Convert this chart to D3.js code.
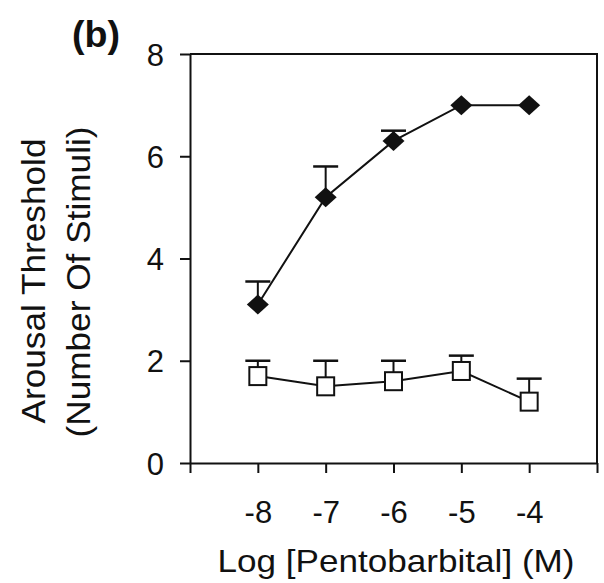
<!DOCTYPE html>
<html><head><meta charset="utf-8">
<script src="https://cdn.jsdelivr.net/npm/d3@7"></script>
<style>html,body{margin:0;padding:0;background:#fff;}text{font-family:"Liberation Sans",Arial,sans-serif;fill:#111;}</style>
</head><body>
<svg id="c" width="604" height="583"></svg>
<script>
const logConc = [-8, -7, -6, -5, -4];
const filledMean = [3.1, 5.2, 6.3, 7.0, 7.0];
const filledErr = [0.45, 0.6, 0.2, 0.0, 0.0];
const openMean = [1.7, 1.5, 1.6, 1.8, 1.2];
const openErr = [0.3, 0.5, 0.4, 0.3, 0.45];
const yTicks = [0, 2, 4, 6, 8];
const xTicks = [-9, -8, -7, -6, -5, -4, -3];
const xTickLabels = ["", "-8", "-7", "-6", "-5", "-4", ""];

const svg = d3.select("#c");
const x = d3.scaleLinear().domain([-9, -3]).range([190, 597]);
const y = d3.scaleLinear().domain([0, 8]).range([463, 54]);
const ink = "#111";

// frame top/right
svg.append("line").attr("x1", x(-9)).attr("x2", x(-3)+1).attr("y1", y(8)).attr("y2", y(8)).attr("stroke", ink).attr("stroke-width", 2);
svg.append("line").attr("x1", x(-3)).attr("x2", x(-3)).attr("y1", y(8)).attr("y2", y(0)).attr("stroke", ink).attr("stroke-width", 2);

// axes
const yAxis = d3.axisLeft(y).tickValues(yTicks).tickSize(10).tickSizeOuter(0).tickPadding(16).tickFormat(d3.format("d"));
const gy = svg.append("g").attr("transform", `translate(${x(-9)},0)`).call(yAxis);
const xAxis = d3.axisBottom(x).tickValues(xTicks).tickSize(10).tickSizeOuter(0).tickPadding(28).tickFormat((d,i)=>xTickLabels[i]);
const gx = svg.append("g").attr("transform", `translate(0,${y(0)})`).call(xAxis);
[gx, gy].forEach(g => {
  g.select(".domain").attr("stroke", ink).attr("stroke-width", 2);
  g.selectAll(".tick line").attr("stroke", ink).attr("stroke-width", 2);
  g.selectAll(".tick text").attr("font-size", 31).attr("fill", ink).style("font-family", '"Liberation Sans",Arial,sans-serif');
});
gy.selectAll(".tick text").attr("dy", "0.36em");
gx.selectAll(".tick text").attr("dy", "0.72em");

// axis titles
svg.append("text").attr("x", 396).attr("y", 572).attr("text-anchor", "middle").attr("font-size", 32)
  .attr("textLength", 357).attr("lengthAdjust", "spacingAndGlyphs").text("Log [Pentobarbital] (M)");
svg.append("text").attr("transform", "translate(45,281) rotate(-90)").attr("text-anchor", "middle").attr("font-size", 33)
  .attr("textLength", 285).attr("lengthAdjust", "spacingAndGlyphs").text("Arousal Threshold");
svg.append("text").attr("transform", "translate(90,282) rotate(-90)").attr("text-anchor", "middle").attr("font-size", 33)
  .attr("textLength", 311).attr("lengthAdjust", "spacingAndGlyphs").text("(Number Of Stimuli)");
svg.append("text").attr("x", 72).attr("y", 47).attr("font-size", 36).attr("font-weight", "bold")
  .attr("textLength", 48).attr("lengthAdjust", "spacingAndGlyphs").text("(b)");

function series(mean, err, drawMarker) {
  const g = svg.append("g");
  const pts = logConc.map((c, i) => ({c, m: mean[i], e: err[i]}));
  // error bars (upward)
  pts.filter(p => p.e > 0).forEach(p => {
    g.append("line").attr("x1", x(p.c)).attr("x2", x(p.c)).attr("y1", y(p.m)).attr("y2", y(p.m + p.e)).attr("stroke", ink).attr("stroke-width", 2);
    g.append("line").attr("x1", x(p.c) - 12.5).attr("x2", x(p.c) + 12.5).attr("y1", y(p.m + p.e)).attr("y2", y(p.m + p.e)).attr("stroke", ink).attr("stroke-width", 2.5);
  });
  g.append("path").datum(pts).attr("fill", "none").attr("stroke", ink).attr("stroke-width", 2)
    .attr("d", d3.line().x(p => x(p.c)).y(p => y(p.m)));
  pts.forEach(p => drawMarker(g, x(p.c), y(p.m)));
}

series(openMean, openErr, (g, cx, cy) => {
  g.append("rect").attr("x", cx - 8.5).attr("y", cy - 9).attr("width", 17).attr("height", 18)
    .attr("fill", "#fff").attr("stroke", ink).attr("stroke-width", 2);
});
series(filledMean, filledErr, (g, cx, cy) => {
  g.append("path").attr("d", `M${cx},${cy-10}L${cx+11},${cy}L${cx},${cy+10}L${cx-11},${cy}Z`).attr("fill", ink);
});
</script>
</body></html>
